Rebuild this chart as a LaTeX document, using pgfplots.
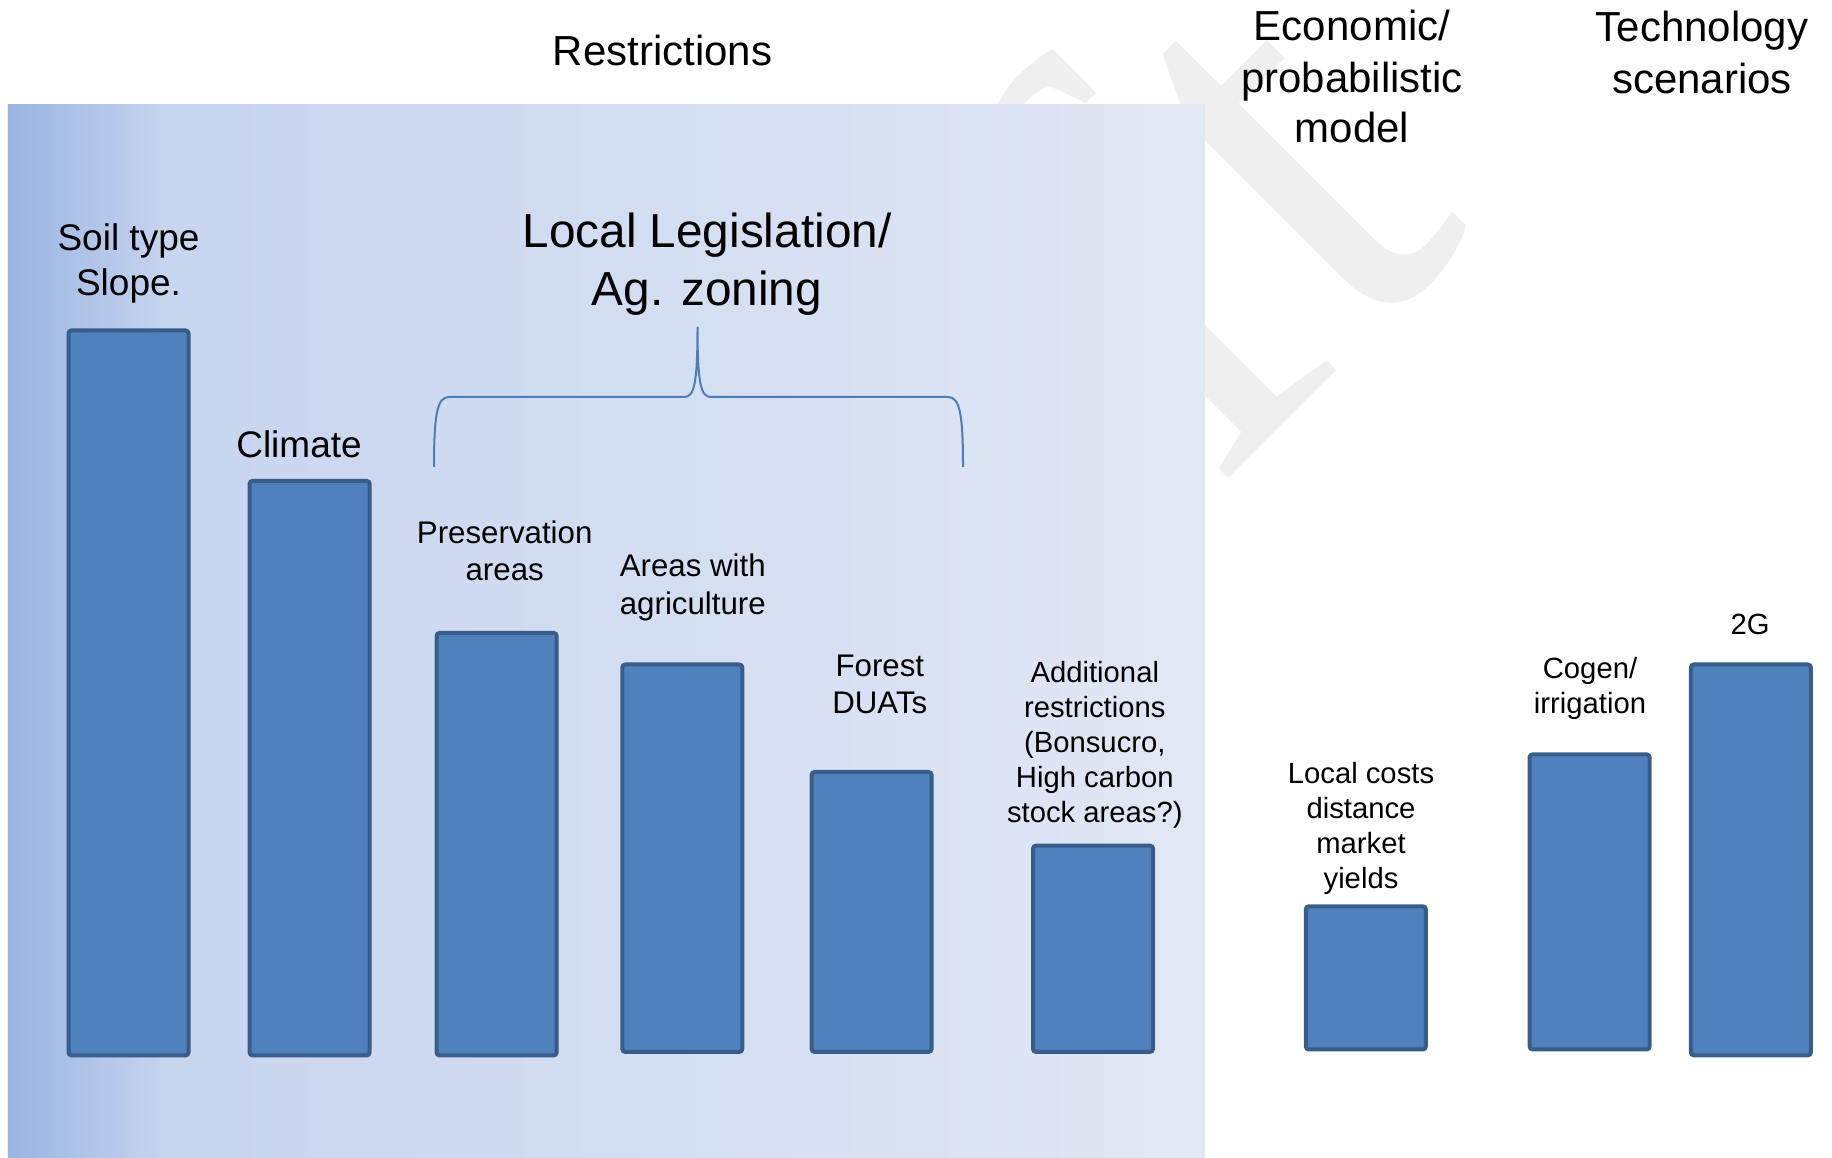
\documentclass[border=0pt]{standalone}
\usepackage{pgfplots}
\pgfplotsset{compat=1.18}
\usepackage{fontspec}
\setmainfont{Liberation Sans}
\newfontfamily\wmfont{Liberation Serif}
\definecolor{barfill}{HTML}{4F81BD}
\definecolor{barline}{HTML}{385D8A}
\definecolor{bgA}{HTML}{9AB5E2}
\definecolor{bgB}{HTML}{C4D2EE}
\definecolor{bgC}{HTML}{E1E8F5}
\definecolor{wm}{HTML}{EFEFEF}
\definecolor{bracec}{HTML}{4A7EBB}
\newcommand{\fH}{\fontsize{16.8}{20.2}\selectfont}
\newcommand{\fS}{\fontsize{14.8}{17.8}\selectfont}
\newcommand{\fL}{\fontsize{19.1}{23}\selectfont}
\newcommand{\fM}{\fontsize{12.5}{15}\selectfont}
\newcommand{\fN}{\fontsize{11.7}{14}\selectfont}
\newcommand{\T}[4]{\node[anchor=base, inner sep=0pt, font=#1] at (axis cs:#2,#3) {#4};}
\begin{document}
\begin{tikzpicture}
\path[use as bounding box] (0,0) rectangle (732.8pt,462.8pt);
\begin{scope}[x=0.4pt,y=0.4pt]
\clip (0,0) rectangle (1832,1157);
\node[rotate=45, anchor=base east, text=wm, inner sep=0pt, font=\wmfont\fontsize{246}{246}\selectfont] at (1477,927) {Draft};
\fill[left color=bgB, right color=bgC] (8,0) rectangle (1205,1053);
\fill[left color=bgA, right color=bgB] (8,0) rectangle (160,1053);
\end{scope}
\begin{axis}[
  at={(0,0)}, anchor=south west,
  width=732.8pt, height=462.8pt, scale only axis,
  xmin=0, xmax=1832, ymin=0, ymax=1157,
  hide axis, clip=false,
  ybar stacked, bar width=120,
]
\addplot[draw=none, fill=none] coordinates {(128.5,101.6) (309.6,101.6) (496.6,101.6) (682.3,105.1) (871.6,105.1) (1093,105.1) (1365.8,107.5) (1589.6,107.5) (1750.8,101.6)};
\addplot[fill=barfill, draw=barline, line width=1.6pt, rounded corners=1.2pt] coordinates {(128.5,725) (309.6,574.5) (496.6,422.5) (682.3,387.4) (871.6,279.9) (1093,206.3) (1365.8,143.2) (1589.6,295.1) (1750.8,390.9)};
\draw[bracec, line width=0.8pt] (axis cs:434,690) .. controls (axis cs:434,742) and (axis cs:437,760) .. (axis cs:449,760) -- (axis cs:684,760) .. controls (axis cs:694,760) and (axis cs:697.5,772) .. (axis cs:697.5,830) .. controls (axis cs:697.5,772) and (axis cs:701,760) .. (axis cs:711,760) -- (axis cs:948,760) .. controls (axis cs:960,760) and (axis cs:963,742) .. (axis cs:963,690);
\T{\fH}{662.5}{1091.6}{Restrictions}
\T{\fH}{1352}{1116.1}{Economic/}
\T{\fH}{1352}{1064.7}{probabilistic}
\T{\fH}{1352}{1014.5}{model}
\T{\fH}{1702}{1115}{Technology}
\T{\fH}{1702}{1063.5}{scenarios}
\T{\fS}{128.5}{906}{Soil type}
\T{\fS}{128.5}{861.4}{Slope.}
\T{\fS}{299}{699}{Climate}
\T{\fL}{707}{909.3}{Local Legislation/}
\T{\fL}{707}{851}{Ag. zoning}
\T{\fM}{504.7}{613.7}{Preservation}
\T{\fM}{504.7}{576.3}{areas}
\T{\fM}{692.8}{580}{Areas with}
\T{\fM}{692.8}{542.4}{agriculture}
\T{\fM}{879.8}{480.5}{Forest}
\T{\fM}{879.8}{443.1}{DUATs}
\T{\fN}{1094.8}{474.7}{Additional}
\T{\fN}{1094.8}{439.6}{restrictions}
\T{\fN}{1094.8}{404.6}{(Bonsucro,}
\T{\fN}{1094.8}{369.5}{High carbon}
\T{\fN}{1094.8}{334.5}{stock areas?)}
\T{\fN}{1361}{373}{Local costs}
\T{\fN}{1361}{338}{distance}
\T{\fN}{1361}{303}{market}
\T{\fN}{1361}{268}{yields}
\T{\fN}{1590}{478.2}{Cogen/}
\T{\fN}{1590}{443.1}{irrigation}
\T{\fN}{1750}{522.6}{2G}
\end{axis}
\end{tikzpicture}
\end{document}
